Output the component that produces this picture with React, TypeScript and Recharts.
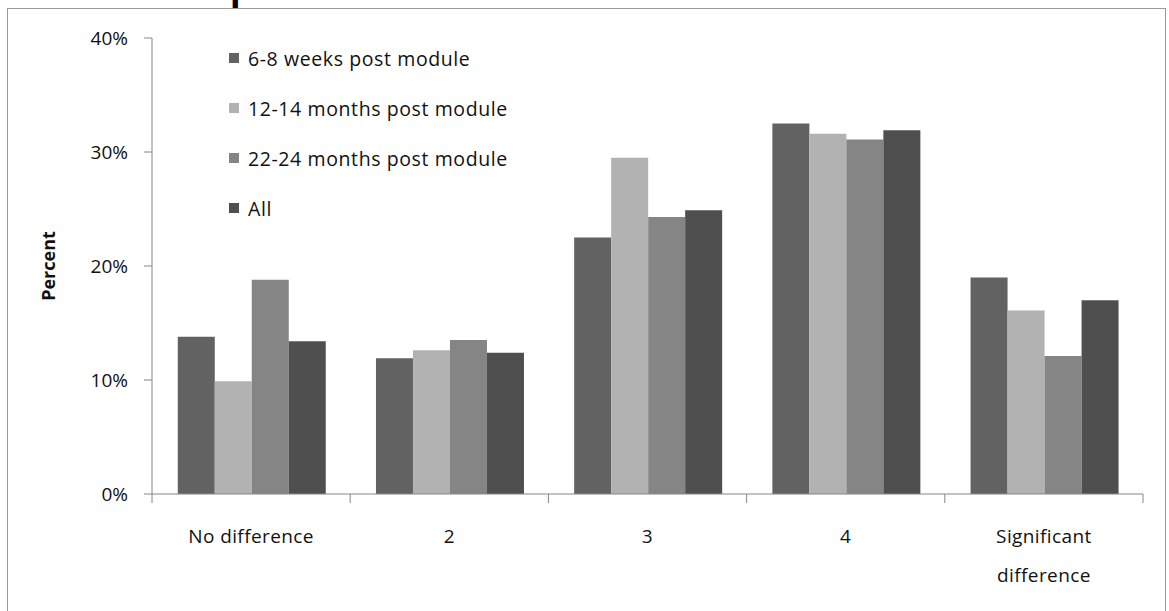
import React from 'react';
import { BarChart, Bar, XAxis, YAxis, Legend } from 'recharts';

const categories = ['No difference', '2', '3', '4', 'Significant difference'];
const weeks6to8 = [13.8, 11.9, 22.5, 32.5, 19.0];
const months12to14 = [9.9, 12.6, 29.5, 31.6, 16.1];
const months22to24 = [18.8, 13.5, 24.3, 31.1, 12.1];
const allGroups = [13.4, 12.4, 24.9, 31.9, 17.0];
const yTicks = [0, 10, 20, 30, 40];

const series = [
  { key: 'w68', name: '6-8 weeks post module', color: '#626262', values: weeks6to8 },
  { key: 'm1214', name: '12-14 months post module', color: '#b2b2b2', values: months12to14 },
  { key: 'm2224', name: '22-24 months post module', color: '#858585', values: months22to24 },
  { key: 'all', name: 'All', color: '#4f4f4f', values: allGroups },
];

const data = categories.map((category, i) => {
  const row: Record<string, string | number> = { category };
  series.forEach((s) => {
    row[s.key] = s.values[i];
  });
  return row;
});

const FONT = '"Open Sans", "Noto Sans", sans-serif';

function CategoryTick(props: any) {
  const { x, y, payload, index } = props;
  const half = payload.offset ?? 99;
  const lines = payload.value === 'Significant difference' ? ['Significant', 'difference'] : [payload.value];
  return (
    <g>
      <line x1={x - half} y1={y - 8} x2={x - half} y2={y + 1} stroke="#868686" />
      {index === categories.length - 1 && (
        <line x1={x + half} y1={y - 8} x2={x + half} y2={y + 1} stroke="#868686" />
      )}
      <text x={x} y={y + 41} textAnchor="middle" fontSize={19} fill="#111" fontFamily={FONT} letterSpacing={0.4}>
        {lines.map((l, i) => (
          <tspan key={l} x={x} dy={i === 0 ? 0 : 39}>
            {l}
          </tspan>
        ))}
      </text>
    </g>
  );
}

function PercentLabel(props: any) {
  const { viewBox } = props;
  const x = viewBox.x + 48;
  const y = viewBox.y + viewBox.height / 2;
  return (
    <text
      x={x}
      y={y}
      transform={`rotate(-90, ${x}, ${y})`}
      textAnchor="middle"
      dominantBaseline="central"
      fontSize={18}
      fontWeight="bold"
      fill="#111"
      fontFamily={FONT}
    >
      Percent
    </text>
  );
}

function LegendBox() {
  return (
    <div style={{ fontFamily: FONT, fontSize: 19.5, color: '#111', letterSpacing: 0.6, whiteSpace: 'nowrap' }}>
      {series.map((s) => (
        <div key={s.key} style={{ display: 'flex', alignItems: 'center', height: 50 }}>
          <span style={{ width: 10, height: 10, background: s.color, marginRight: 9, display: 'inline-block' }} />
          <span>{s.name}</span>
        </div>
      ))}
    </div>
  );
}

export default function App() {
  return (
    <div style={{ position: 'absolute', left: 0, top: 0, width: 1169, height: 611, background: '#fff', overflow: 'hidden' }}>
      <div style={{ position: 'absolute', left: 7, top: 8, width: 1159, height: 620, border: '1px solid #999', boxSizing: 'border-box' }} />
      <div style={{ position: 'absolute', left: 230, top: -32, fontFamily: 'Arial, sans-serif', fontWeight: 'bold', fontSize: 38, color: '#000', lineHeight: '38px' }}>
        p
      </div>
      <BarChart
        width={1169}
        height={611}
        data={data}
        margin={{ top: 38, right: 26, bottom: 17, left: 0 }}
        barCategoryGap="13%"
        barGap={0}
        style={{ position: 'absolute', left: 0, top: 0 }}
      >
        <XAxis
          dataKey="category"
          axisLine={{ stroke: '#868686' }}
          tickLine={false}
          tick={<CategoryTick />}
          interval={0}
          height={100}
        />
        <YAxis
          width={152}
          domain={[0, 40]}
          ticks={yTicks}
          tickFormatter={(v: number) => `${v}%`}
          axisLine={{ stroke: '#868686' }}
          tickLine={{ stroke: '#868686' }}
          tickSize={8}
          tickMargin={16}
          tick={{ fontSize: 19, fill: '#111', fontFamily: FONT }}
          label={<PercentLabel />}
        />
        <Legend
          layout="vertical"
          align="center"
          verticalAlign="middle"
          content={<LegendBox />}
          wrapperStyle={{ left: 229, top: 33, width: 340 }}
        />
        {series.map((s) => (
          <Bar key={s.key} dataKey={s.key} name={s.name} fill={s.color} isAnimationActive={false} />
        ))}
      </BarChart>
    </div>
  );
}
